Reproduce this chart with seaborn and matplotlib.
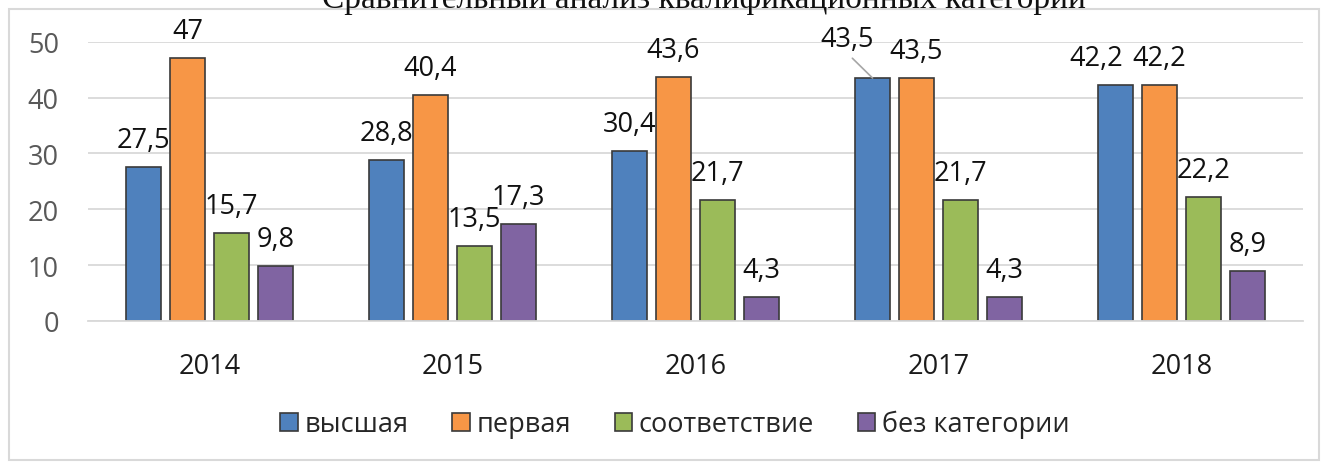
import matplotlib
matplotlib.use('Agg')
import matplotlib.pyplot as plt
import pandas as pd
import seaborn as sns
from matplotlib.patches import Patch, Rectangle

# Data
years = ['2014', '2015', '2016', '2017', '2018']
categories = ['высшая', 'первая', 'соответствие', 'без категории']
vysshaya = [27.5, 28.8, 30.4, 43.5, 42.2]
pervaya = [47, 40.4, 43.6, 43.5, 42.2]
sootvetstvie = [15.7, 13.5, 21.7, 21.7, 22.2]
bez_kategorii = [9.8, 17.3, 4.3, 4.3, 8.9]
colors = ['#4f81bd', '#f79646', '#9bbb59', '#8064a2']
title = 'Сравнительный анализ квалификационных категорий'

# long-form table for seaborn
rows = []
for cat, vals in zip(categories, [vysshaya, pervaya, sootvetstvie, bez_kategorii]):
    for y, v in zip(years, vals):
        rows.append({'year': y, 'category': cat, 'value': v})
df = pd.DataFrame(rows)

sns.set_theme(style='white')
plt.rcParams['font.family'] = ['Open Sans', 'DejaVu Sans']

fig = plt.figure(figsize=(13.22, 4.64), dpi=100)
ax = fig.add_axes([88 / 1322, 1 - 322 / 464, (1303 - 88) / 1322, (322 - 42.7) / 464])

sns.barplot(data=df, x='year', y='value', hue='category', order=years,
            hue_order=categories, palette=colors, width=0.724, gap=0.2,
            edgecolor='#3a3a3a', linewidth=1.2, saturation=1, legend=False, ax=ax)

ax.set_xlim(-0.5, 4.5)
ax.set_ylim(0, 50)
ax.set_yticks([0, 10, 20, 30, 40, 50])
ax.yaxis.grid(True, color='#d9d9d9', linewidth=1.3)
ax.set_axisbelow(True)
for s in ['top', 'right', 'left']:
    ax.spines[s].set_visible(False)
ax.spines['bottom'].set_color('#d9d9d9')
ax.spines['bottom'].set_linewidth(1.3)
ax.tick_params(axis='y', length=0, pad=21, labelsize=19.5, labelcolor='#595959')
ax.tick_params(axis='x', length=0, pad=22, labelsize=19.5, labelcolor='#1a1a1a')
ax.set_xlabel('')
ax.set_ylabel('')

# data labels; a few are moved aside like in the original (offsets in px)
special = {(3, 0): (-25.5, 32, True), (4, 0): (-19, 20, False)}
for hi, cont in enumerate(ax.containers):
    for yi, bar in enumerate(cont):
        h = bar.get_height()
        xc = bar.get_x() + bar.get_width() / 2
        txt = f'{h:g}'.replace('.', ',')
        dx, dy, leader = special.get((yi, hi), (0, 20, False))
        arrow = None
        if leader:
            arrow = dict(arrowstyle='-', color='#a6a6a6', lw=1.2,
                         relpos=(0.5, 0), shrinkA=2, shrinkB=0)
        ax.annotate(txt, (xc, h), xytext=(dx * 0.72, dy * 0.72),
                    textcoords='offset points', ha='center', va='baseline',
                    fontsize=19.5, color='#111111', arrowprops=arrow)

# legend
handles = [Patch(facecolor=c, edgecolor='#3a3a3a', linewidth=1.2) for c in colors]
fig.legend(handles, categories, loc='center', bbox_to_anchor=(675 / 1322, 1 - 425 / 464),
           ncol=4, frameon=False, fontsize=19.5, handlelength=0.65, handleheight=0.65,
           handletextpad=0.25, columnspacing=1.6)

# title, cut off at the top edge like in the scan
fig.text(704 / 1322, 1 - 8 / 464, title, ha='center', va='baseline',
         fontsize=24, family='Liberation Serif', color='#111111')

# chart border
fig.add_artist(Rectangle((9 / 1322, 3 / 464), 1310 / 1322, 451 / 464,
                         transform=fig.transFigure, fill=False,
                         edgecolor='#d9d9d9', linewidth=1.5))

fig.savefig('out.png', dpi=100)
